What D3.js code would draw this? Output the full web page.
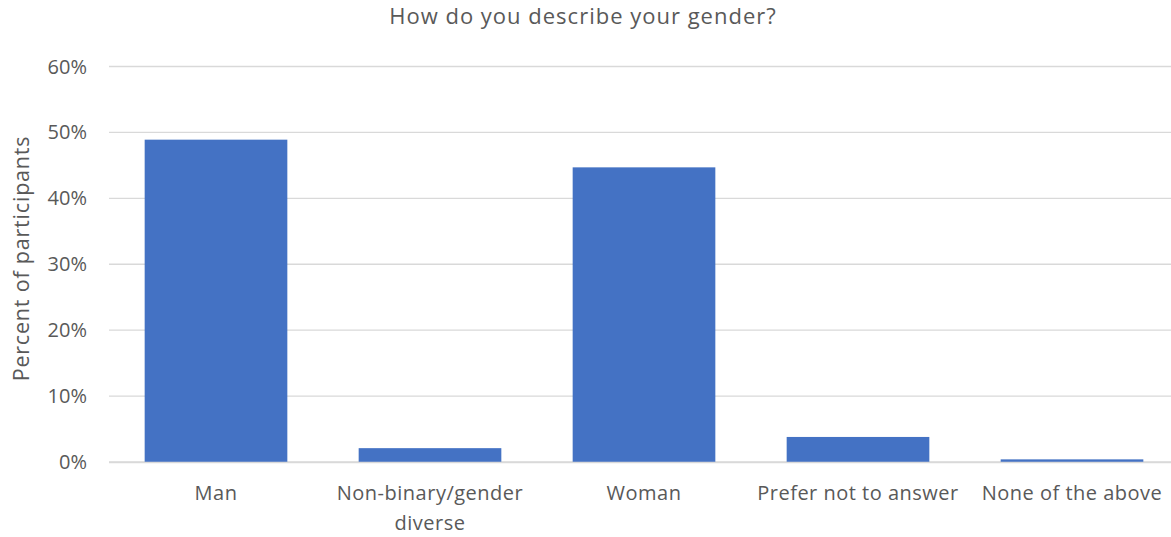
<!DOCTYPE html>
<html>
<head>
<meta charset="utf-8">
<script src="https://cdn.jsdelivr.net/npm/d3@7"></script>
<style>
  body { margin: 0; background: #fff; }
  svg { display: block; font-family: "Open Sans", "Noto Sans", sans-serif; }
</style>
</head>
<body>
<svg id="chart" width="1171" height="537"></svg>
<script>
// Survey responses: share of participants by gender description
const categories = ["Man", "Non-binary/gender diverse", "Woman", "Prefer not to answer", "None of the above"];
const categoryLines = [["Man"], ["Non-binary/gender", "diverse"], ["Woman"], ["Prefer not to answer"], ["None of the above"]];
const percentValues = [48.9, 2.1, 44.7, 3.8, 0.4];
const yTicks = [0, 10, 20, 30, 40, 50, 60];
const titleText = "How do you describe your gender?";
const yAxisTitle = "Percent of participants";

(function draw() {
  const svg = d3.select("#chart");
  const plotLeft = 109, plotRight = 1179, plotTop = 66.5, plotBottom = 462;
  const textColor = "#595959";

  const x = d3.scaleBand().domain(categories).range([plotLeft, plotRight]).paddingInner(1/3).paddingOuter(1/6);
  const y = d3.scaleLinear().domain([0, 60]).range([plotBottom, plotTop]);

  // gridlines
  svg.append("g").selectAll("line").data(yTicks).join("line")
    .attr("x1", plotLeft).attr("x2", plotRight)
    .attr("y1", d => y(d)).attr("y2", d => y(d))
    .attr("stroke", "#d9d9d9").attr("stroke-width", 1.3);

  // y tick labels
  svg.append("g").selectAll("text").data(yTicks).join("text")
    .attr("x", 87).attr("y", d => y(d))
    .attr("dy", "0.35em")
    .attr("text-anchor", "end")
    .attr("fill", textColor).attr("font-size", 20)
    .text(d => d + "%");

  // bars
  svg.append("g").selectAll("rect").data(categories).join("rect")
    .attr("x", d => x(d))
    .attr("width", x.bandwidth())
    .attr("y", (d, i) => y(percentValues[i]))
    .attr("height", (d, i) => plotBottom - y(percentValues[i]))
    .attr("fill", "#4472C4");

  // baseline drawn over the bars
  svg.append("line")
    .attr("x1", plotLeft).attr("x2", plotRight)
    .attr("y1", plotBottom + 0.5).attr("y2", plotBottom + 0.5)
    .attr("stroke", "#d9d9d9").attr("stroke-width", 1.3);

  // category labels
  const catG = svg.append("g");
  categories.forEach((c, i) => {
    const cx = x(c) + x.bandwidth() / 2;
    const t = catG.append("text")
      .attr("x", cx)
      .attr("y", 500)
      .attr("text-anchor", "middle")
      .attr("fill", textColor).attr("font-size", 20)
      .attr("letter-spacing", 0.5);
    categoryLines[i].forEach((line, j) => {
      t.append("tspan").attr("x", cx).attr("dy", j === 0 ? 0 : 30).text(line);
    });
  });

  // y axis title
  svg.append("text")
    .attr("transform", "translate(29,258.5) rotate(-90)")
    .attr("text-anchor", "middle")
    .attr("fill", textColor).attr("font-size", 21.5)
    .attr("letter-spacing", 0.8)
    .text(yAxisTitle);

  // chart title
  svg.append("text")
    .attr("x", 583).attr("y", 24)
    .attr("text-anchor", "middle")
    .attr("fill", textColor).attr("font-size", 22)
    .attr("letter-spacing", 1)
    .text(titleText);
})();
</script>
</body>
</html>
